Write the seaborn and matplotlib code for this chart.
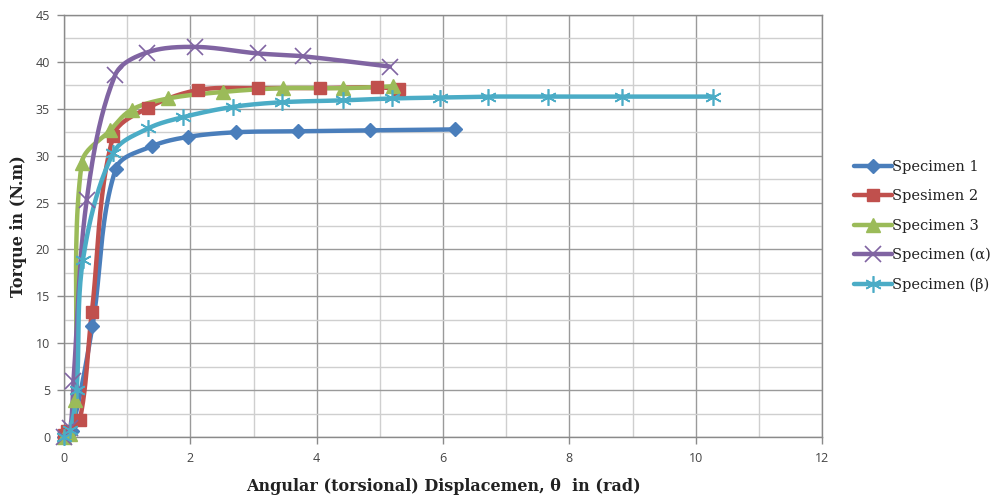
import matplotlib
matplotlib.use("Agg")
import matplotlib.pyplot as plt
from matplotlib.ticker import MultipleLocator
from matplotlib.lines import Line2D
import seaborn as sns
import numpy as np
import pandas as pd

# Torsion test results: angular displacement (rad) vs torque (N.m)
spec1_theta = [0, 0.12, 0.45, 0.82, 1.39, 1.96, 2.73, 3.70, 4.84, 6.19]
spec1_torque = [0, 0.6, 11.8, 28.6, 31.0, 32.0, 32.5, 32.6, 32.7, 32.8]

spec2_theta = [0, 0.05, 0.25, 0.44, 0.78, 1.33, 2.12, 3.07, 4.05, 4.95, 5.30]
spec2_torque = [0.2, 0.6, 1.8, 13.3, 32.1, 35.1, 37.0, 37.2, 37.2, 37.3, 37.1]

spec3_theta = [0, 0.1, 0.18, 0.28, 0.73, 1.07, 1.65, 2.52, 3.47, 4.42, 5.21]
spec3_torque = [0, 0.3, 3.9, 29.2, 32.7, 34.9, 36.1, 36.8, 37.2, 37.2, 37.4]

alpha_theta = [0, 0.1, 0.15, 0.36, 0.81, 1.31, 2.07, 3.07, 3.78, 5.16]
alpha_torque = [0, 1.0, 6.0, 25.3, 38.6, 41.0, 41.6, 40.9, 40.6, 39.5]

beta_theta = [0, 0.1, 0.2, 0.3, 0.78, 1.33, 1.88, 2.67, 3.45, 4.42, 5.19,
              5.95, 6.71, 7.66, 8.83, 10.27]
beta_torque = [0, 0.8, 5.0, 18.9, 30.3, 32.9, 34.1, 35.2, 35.7, 35.9, 36.1,
               36.2, 36.3, 36.3, 36.3, 36.3]

series_names = ["Specimen 1", "Spesimen 2", "Specimen 3",
                "Specimen (\u03b1)", "Specimen (\u03b2)"]
series_theta = [spec1_theta, spec2_theta, spec3_theta, alpha_theta, beta_theta]
series_torque = [spec1_torque, spec2_torque, spec3_torque, alpha_torque, beta_torque]

x_ticks = [0, 2, 4, 6, 8, 10, 12]
y_ticks = [0, 5, 10, 15, 20, 25, 30, 35, 40, 45]

colors = ["#4a7ebb", "#c0504d", "#9bbb59", "#8064a2", "#4bacc6"]
markers = ["D", "s", "^", "x", (6, 2, 0)]
msizes = [7.5, 8.5, 9.5, 11, 12]
mews = [1, 1, 1, 1.2, 1.2]


def smooth_path(xs, ys, aspect=(63.2, 9.38), k=0.33, steps=24):
    """Smoothed-line rendering: cubic Bezier segments through every measured
    point; tangents follow the neighbouring chords and handle lengths are
    tied to each segment's own length (measured on screen proportions)."""
    sx, sy = aspect
    p = np.column_stack([np.asarray(xs) * sx, np.asarray(ys) * sy]).astype(float)
    n = len(p)
    tang = np.zeros_like(p)
    for i in range(n):
        a = p[max(i - 1, 0)]
        b = p[min(i + 1, n - 1)]
        d = b - a
        L = np.hypot(*d)
        tang[i] = d / L if L > 0 else 0.0
    out = [p[0]]
    t = np.linspace(0, 1, steps)[1:, None]
    for i in range(n - 1):
        p1, p2 = p[i], p[i + 1]
        L = np.hypot(*(p2 - p1))
        c1 = p1 + tang[i] * L * k
        c2 = p2 - tang[i + 1] * L * k
        seg = ((1 - t) ** 3) * p1 + 3 * ((1 - t) ** 2) * t * c1 \
            + 3 * (1 - t) * t ** 2 * c2 + t ** 3 * p2
        out.extend(seg)
    out = np.array(out)
    return out[:, 0] / sx, out[:, 1] / sy


sns.set_theme(style="white")
plt.rcParams["font.family"] = ["DejaVu Sans"]

fig = plt.figure(figsize=(10, 4.97), dpi=100)
ax = fig.add_axes([0.064, 0.1207, 0.758, 0.8491])

handles = []
for name, xs, ys, c, m, ms, mew in zip(series_names, series_theta, series_torque,
                                        colors, markers, msizes, mews):
    sx, sy = smooth_path(xs, ys)
    curve = pd.DataFrame({"theta": sx, "torque": sy})
    sns.lineplot(data=curve, x="theta", y="torque", sort=False, estimator=None,
                 ax=ax, color=c, linewidth=3.2, clip_on=False, zorder=3,
                 legend=False)
    ax.plot(xs, ys, linestyle="none", marker=m, markersize=ms,
            markeredgewidth=mew, markeredgecolor=c, markerfacecolor=c,
            clip_on=False, zorder=4)
    handles.append(Line2D([], [], color=c, linewidth=3.2, marker=m,
                          markersize=ms, markeredgewidth=mew,
                          markeredgecolor=c, markerfacecolor=c, label=name))

ax.set_xlim(0, 12)
ax.set_ylim(0, 45)
ax.set_xticks(x_ticks)
ax.set_yticks(y_ticks)
ax.xaxis.set_minor_locator(MultipleLocator(1))
ax.yaxis.set_minor_locator(MultipleLocator(2.5))
ax.grid(which="major", color="#9a9a9a", linewidth=1.0, zorder=0)
ax.grid(which="minor", color="#cfcfcf", linewidth=1.0, zorder=0)
ax.set_axisbelow(True)

ax.tick_params(axis="both", which="major", direction="out", length=5,
               width=1, color="#8a8a8a", labelsize=9, labelcolor="#444444",
               bottom=True, left=True)
ax.tick_params(axis="both", which="minor", length=0)
ax.tick_params(axis="x", pad=6)
ax.tick_params(axis="y", pad=5)
for lab in ax.get_xticklabels() + ax.get_yticklabels():
    lab.set_family("Open Sans")

for side in ["left", "bottom", "right", "top"]:
    ax.spines[side].set_visible(True)
    ax.spines[side].set_color("#8a8a8a")
    ax.spines[side].set_linewidth(1.0)

ax.set_xlabel("Angular (torsional) Displacemen, \u03b8  in (rad)",
              fontsize=11.5, fontweight="bold", family="DejaVu Serif",
              color="#222222", labelpad=9)
ax.set_ylabel("Torque in (N.m)", fontsize=11.5, fontweight="bold",
              family="DejaVu Serif", color="#222222", labelpad=6)

leg = ax.legend(handles=handles, loc="center left",
                bbox_to_anchor=(1.025, 0.5), frameon=False,
                numpoints=1, handlelength=2.6, handletextpad=0.0,
                labelspacing=1.05, prop={"family": "DejaVu Serif", "size": 10.5})
for t in leg.get_texts():
    t.set_color("#222222")

fig.savefig("out.png", dpi=100, facecolor="white")
